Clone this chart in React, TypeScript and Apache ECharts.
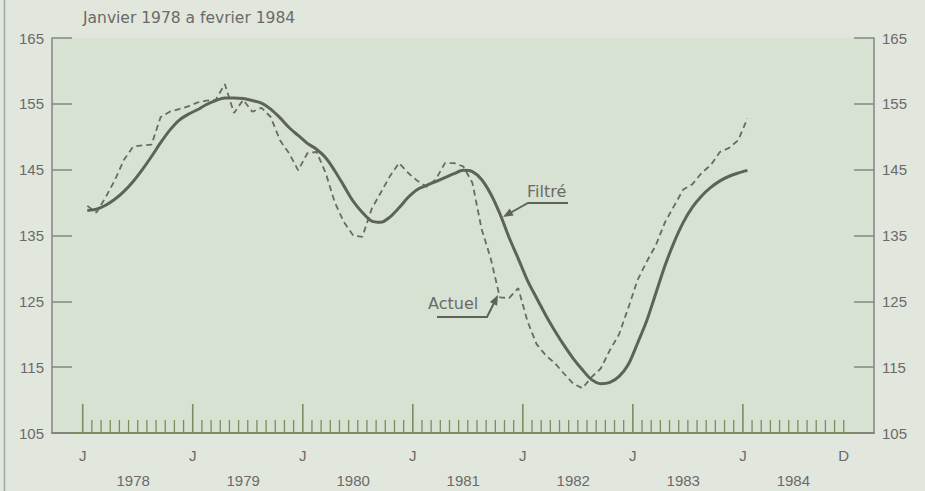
import React, { useEffect, useRef } from "react";
import * as echarts from "echarts";

// Monthly values, January 1978 (index 0) onward
const actuel: number[] = [
  139.5, 138.5, 140.8, 143.4, 146.5, 148.5, 148.7, 148.8, 153.0, 153.8, 154.2, 154.6,
  155.2, 155.5, 155.6, 158.0, 153.6, 155.6, 153.8, 154.4, 153.0, 149.5, 147.5, 144.9,
  147.5, 147.7, 144.5, 140.0, 137.0, 135.0, 134.8, 139.0, 141.5, 144.0, 146.0, 144.5,
  143.3, 142.4, 143.5, 146.0, 146.0, 145.5, 143.0, 136.0, 131.5, 125.6, 125.5, 127.0,
  122.0, 118.5, 116.8, 115.6, 114.0, 112.5, 111.8, 113.5, 114.8, 117.6, 120.0, 124.0,
  128.2, 131.0, 133.5, 137.0, 139.5, 142.0, 142.8, 144.5, 145.7, 147.7, 148.3, 149.5,
  152.8,
];
const filtre: number[] = [
  138.8, 139.0, 139.6, 140.5, 141.7, 143.2, 145.0, 147.0, 149.1, 151.0, 152.5, 153.4,
  154.1, 154.9, 155.5, 155.9, 155.9, 155.8, 155.5, 155.1, 154.2, 152.9, 151.4, 150.2,
  149.0, 148.1, 146.8, 144.8, 142.5, 140.2, 138.5, 137.2, 137.0, 137.8, 139.2, 140.8,
  142.0, 142.6, 143.2, 143.8, 144.4, 144.9, 144.7, 143.5, 141.3, 138.3, 134.7, 131.5,
  128.2, 125.5, 122.9, 120.5, 118.3, 116.3, 114.6, 113.1, 112.5, 112.7, 113.6, 115.4,
  118.6, 122.0, 126.2, 130.4, 134.0, 137.0, 139.3, 141.0, 142.3, 143.3, 144.0, 144.5,
  144.9,
];
const yearLabels: string[] = ["1978", "1979", "1980", "1981", "1982", "1983", "1984"];
const TICK_MONTHS = 84; // Jan 1978 .. Dec 1984
const title = "Janvier 1978 a fevrier 1984";

const TEXT = "#6a6a6a";
const LINE = "#5d625a";
const OLIVE = "#7d8b60";
const AXIS = "#858585";
const FONT = "'Liberation Sans', Arial, sans-serif";
const WIDE = "'DejaVu Sans', sans-serif";

export default function App() {
  const ref = useRef<HTMLDivElement>(null);
  useEffect(() => {
    if (!ref.current) return;
    const chart = echarts.init(ref.current, undefined, { renderer: "svg" });
    const tickData = Array.from({ length: TICK_MONTHS }, (_, i) => [i, i % 12 === 0 ? 1 : 0]);
    const yAxisCommon = {
      type: "value",
      min: 105,
      max: 165,
      interval: 10,
      splitLine: { show: false },
      axisLine: { show: true, onZero: false, lineStyle: { color: AXIS, width: 1.5 } },
      axisTick: { show: true, inside: true, length: 20, lineStyle: { color: AXIS, width: 1.5 } },
      axisLabel: { color: TEXT, fontSize: 15, fontFamily: FONT, margin: 8 },
    };
    chart.setOption({
      animation: false,
      backgroundColor: "#e2e7dd",
      grid: {
        left: 52,
        right: 51,
        top: 38,
        bottom: 58,
        show: true,
        backgroundColor: "#d8e2d2",
        borderWidth: 0,
      },
      xAxis: {
        type: "value",
        min: -3.35,
        max: 86.3,
        axisLine: { show: true, onZero: false, lineStyle: { color: OLIVE, width: 2 } },
        axisTick: { show: false },
        axisLabel: { show: false },
        splitLine: { show: false },
      },
      yAxis: [
        { ...yAxisCommon, position: "left" },
        { ...yAxisCommon, position: "right" },
      ],
      graphic: [
        { type: "line", shape: { x1: 4.5, y1: 0, x2: 4.5, y2: 491 }, style: { stroke: "#9ea7a6", lineWidth: 1.5 } },
        {
          type: "text", left: 83, top: 10,
          style: { text: title, fill: TEXT, font: `15.5px ${WIDE}` },
        },
        {
          type: "text", left: 527, top: 183,
          style: { text: "Filtré", fill: TEXT, font: `16px ${WIDE}` },
        },
        {
          type: "text", left: 428, top: 295,
          style: { text: "Actuel", fill: TEXT, font: `16px ${WIDE}` },
        },
        {
          type: "polyline",
          shape: { points: [[568, 203], [528, 203], [510, 213]] },
          style: { stroke: LINE, lineWidth: 2, fill: "none" },
        },
        {
          type: "polygon",
          shape: { points: [[503, 217], [513.7, 215.6], [509.7, 208.6]] },
          style: { fill: LINE },
        },
        {
          type: "polyline",
          shape: { points: [[437, 317], [487, 317], [494, 303]] },
          style: { stroke: LINE, lineWidth: 2, fill: "none" },
        },
        {
          type: "polygon",
          shape: { points: [[498, 295], [497.1, 305.7], [489.9, 302.1]] },
          style: { fill: LINE },
        },
      ],
      series: [
        {
          type: "custom",
          clip: false,
          silent: true,
          data: tickData,
          renderItem: (params: any, api: any) => {
            const m = api.value(0);
            const major = api.value(1) === 1;
            const p = api.coord([m, 105]);
            const children: any[] = [
              {
                type: "line",
                shape: { x1: p[0], y1: p[1], x2: p[0], y2: p[1] - (major ? 29 : 13) },
                style: { stroke: OLIVE, lineWidth: major ? 1.6 : 1.3 },
              },
            ];
            if (major || m === TICK_MONTHS - 1) {
              children.push({
                type: "text",
                x: p[0],
                y: p[1] + 22,
                style: {
                  text: major ? "J" : "D",
                  fill: TEXT,
                  font: `15px ${FONT}`,
                  align: "center",
                  verticalAlign: "middle",
                },
              });
            }
            if (major) {
              const q = api.coord([m + 5.5, 105]);
              children.push({
                type: "text",
                x: q[0],
                y: q[1] + 47,
                style: {
                  text: yearLabels[Math.round(m / 12)],
                  fill: TEXT,
                  font: `15px ${FONT}`,
                  align: "center",
                  verticalAlign: "middle",
                },
              });
            }
            return { type: "group", children };
          },
          z: 3,
        },
        {
          type: "line",
          name: "Actuel",
          data: actuel.map((v, i) => [i + 0.5, v]),
          showSymbol: false,
          lineStyle: { color: "#666b63", width: 1.8, type: [6, 4] },
          z: 4,
        },
        {
          type: "line",
          name: "Filtré",
          data: filtre.map((v, i) => [i + 0.5, v]),
          showSymbol: false,
          smooth: 0.3,
          lineStyle: { color: LINE, width: 3 },
          z: 5,
        },
      ],
    });
    return () => chart.dispose();
  }, []);
  return (
    <div
      ref={ref}
      style={{ position: "fixed", left: 0, top: 0, width: 925, height: 491 }}
    />
  );
}
